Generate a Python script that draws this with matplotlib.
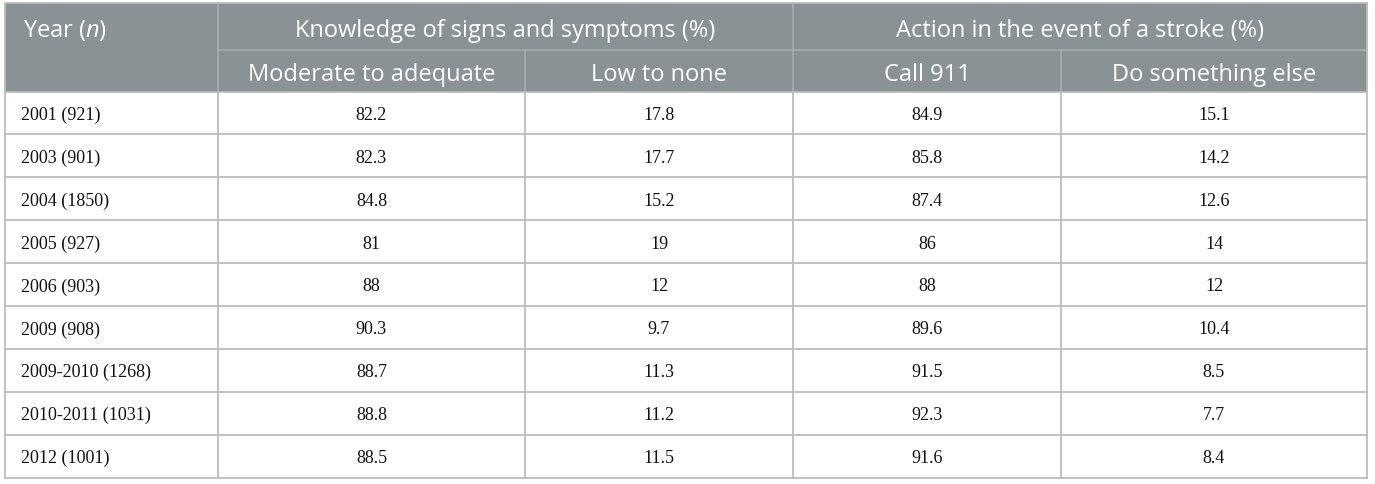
import matplotlib.pyplot as plt
from matplotlib.patches import Rectangle

# table content
years = ['2001 (921)', '2003 (901)', '2004 (1850)', '2005 (927)', '2006 (903)',
         '2009 (908)', '2009-2010 (1268)', '2010-2011 (1031)', '2012 (1001)']
moderate = ['82.2', '82.3', '84.8', '81', '88', '90.3', '88.7', '88.8', '88.5']
low_none = ['17.8', '17.7', '15.2', '19', '12', '9.7', '11.3', '11.2', '11.5']
call_911 = ['84.9', '85.8', '87.4', '86', '88', '89.6', '91.5', '92.3', '91.6']
other = ['15.1', '14.2', '12.6', '14', '12', '10.4', '8.5', '7.7', '8.4']

group_labels = ['Knowledge of signs and symptoms (%)', 'Action in the event of a stroke (%)']
sub_labels = ['Moderate to adequate', 'Low to none', 'Call 911', 'Do something else']

# layout in pixels
W, H = 1375, 485
col_x = [5, 218, 525, 793, 1061, 1367]
top, mid, head_bot, bottom = 4, 50.5, 92.5, 478.5
row_h = (bottom - head_bot) / len(years)

header_bg = '#8b9296'
header_line = '#a6adb1'
body_line = '#bcbcbc'
header_font = ['Open Sans', 'DejaVu Sans']
body_font = ['Liberation Serif', 'DejaVu Serif']
hsize = 17
bsize = 13

plt.rcParams['mathtext.fontset'] = 'custom'
plt.rcParams['mathtext.rm'] = 'Open Sans'
plt.rcParams['mathtext.it'] = 'Open Sans:italic'

fig = plt.figure(figsize=(W / 100, H / 100), dpi=100)
ax = fig.add_axes([0, 0, 1, 1])
ax.set_xlim(0, W)
ax.set_ylim(H, 0)
ax.axis('off')

# header background
ax.add_patch(Rectangle((col_x[0], top), col_x[-1] - col_x[0], head_bot - top,
                       facecolor=header_bg, edgecolor='none'))

# header lines
ax.plot([col_x[1], col_x[-1]], [mid, mid], color=header_line, lw=1.2)
ax.plot([col_x[1], col_x[1]], [top, head_bot], color=header_line, lw=1.2)
ax.plot([col_x[3], col_x[3]], [top, head_bot], color=header_line, lw=1.2)
ax.plot([col_x[2], col_x[2]], [mid, head_bot], color=header_line, lw=1.2)
ax.plot([col_x[4], col_x[4]], [mid, head_bot], color=header_line, lw=1.2)

# header text
ya = (top + mid) / 2 + 0.5
yb = (mid + head_bot) / 2 + 0.5
ax.text(col_x[0] + 18, ya, 'Year ($\\it{n}$)', color='white', fontsize=hsize,
        family=header_font, ha='left', va='center_baseline')
for g, lab in enumerate(group_labels):
    xc = (col_x[1 + 2 * g] + col_x[3 + 2 * g]) / 2
    ax.text(xc, ya, lab, color='white', fontsize=hsize,
            family=header_font, ha='center', va='center_baseline')
for j, lab in enumerate(sub_labels):
    xc = (col_x[j + 1] + col_x[j + 2]) / 2
    ax.text(xc, yb, lab, color='white', fontsize=hsize,
            family=header_font, ha='center', va='center_baseline')

# body lines
for i in range(len(years) + 1):
    y = head_bot + i * row_h
    ax.plot([col_x[0], col_x[-1]], [y, y], color=body_line, lw=1.3)
for x in col_x:
    y0 = top if x in (col_x[0], col_x[-1]) else head_bot
    ax.plot([x, x], [y0, bottom], color=body_line, lw=1.3)
ax.plot([col_x[0], col_x[-1]], [top, top], color=body_line, lw=1.3)

# body text
columns = [moderate, low_none, call_911, other]
for i, yr in enumerate(years):
    yc = head_bot + (i + 0.5) * row_h - 0.5
    ax.text(col_x[0] + 16, yc, yr, color='#111111', fontsize=bsize,
            family=body_font, ha='left', va='center_baseline')
    for j, col in enumerate(columns):
        xc = (col_x[j + 1] + col_x[j + 2]) / 2
        ax.text(xc, yc, col[i], color='#111111', fontsize=bsize,
                family=body_font, ha='center', va='center_baseline')

fig.savefig('out.png', dpi=100)
